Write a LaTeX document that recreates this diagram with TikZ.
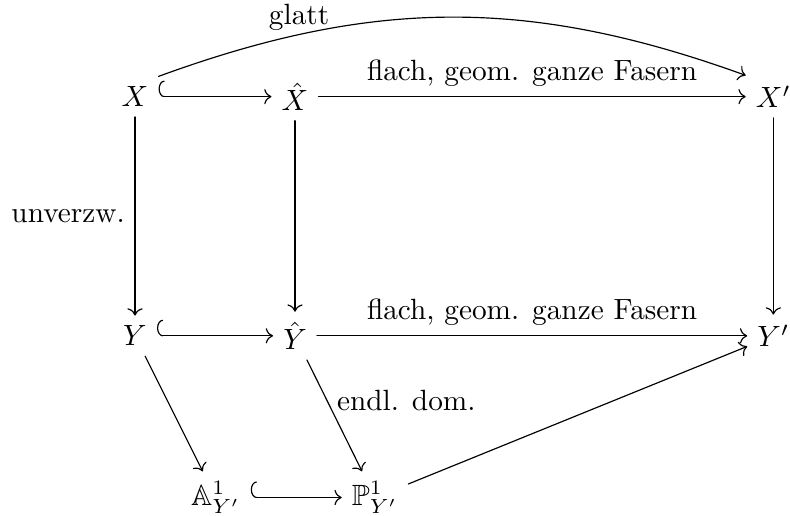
\documentclass[tikz,border=0pt]{standalone}
\usepackage{amsmath,amssymb}
\usepackage{tikz}
\usetikzlibrary{arrows.meta}
\tikzset{
  obj/.style={inner sep=3.3pt},
  incl/.style={{Hooks[right,width=11pt,length=2pt]}->},
  every picture/.style={line cap=round, line join=round}
}

\begin{document}
\begin{tikzpicture}
  \useasboundingbox (0,0) rectangle (9.48,6.19);
  \node[obj] (X) at (1.62,5.03) {$X$};
  \node[obj] (Xh) at (3.54,5.03) {$\hat{X}$};
  \node[obj] (Xp) at (9.28,5.03) {$X'$};
  \node[obj] (Y) at (1.62,2.16) {$Y$};
  \node[obj] (Yh) at (3.54,2.16) {$\hat{Y}$};
  \node[obj] (Yp) at (9.28,2.16) {$Y'$};
  \node[obj] (A) at (2.59,0.22) {$\mathbb{A}^1_{Y'}$};
  \node[obj] (P) at (4.50,0.22) {$\mathbb{P}^1_{Y'}$};
  \draw[incl] (X)--(Xh);
  \draw[->] (Xh)--node[above]{flach, geom. ganze Fasern}(Xp);
  \draw[->] (X.north east) to[bend left=20] node[pos=0.23,above,inner sep=1pt]{glatt} (Xp.north west);
  \draw[->] (X)--node[left]{unverzw.}(Y);
  \draw[->] (Xh)--(Yh);
  \draw[->] (Xp)--(Yp);
  \draw[incl] (Y)--(Yh);
  \draw[->] (Yh)--node[above]{flach, geom. ganze Fasern}(Yp);
  \draw[->] (Y)--(A);
  \draw[->] (Yh)--node[pos=0.36,right]{endl. dom.}(P);
  \draw[incl] (A)--(P);
  \draw[->] (P)--(Yp);
\end{tikzpicture}
\end{document}
